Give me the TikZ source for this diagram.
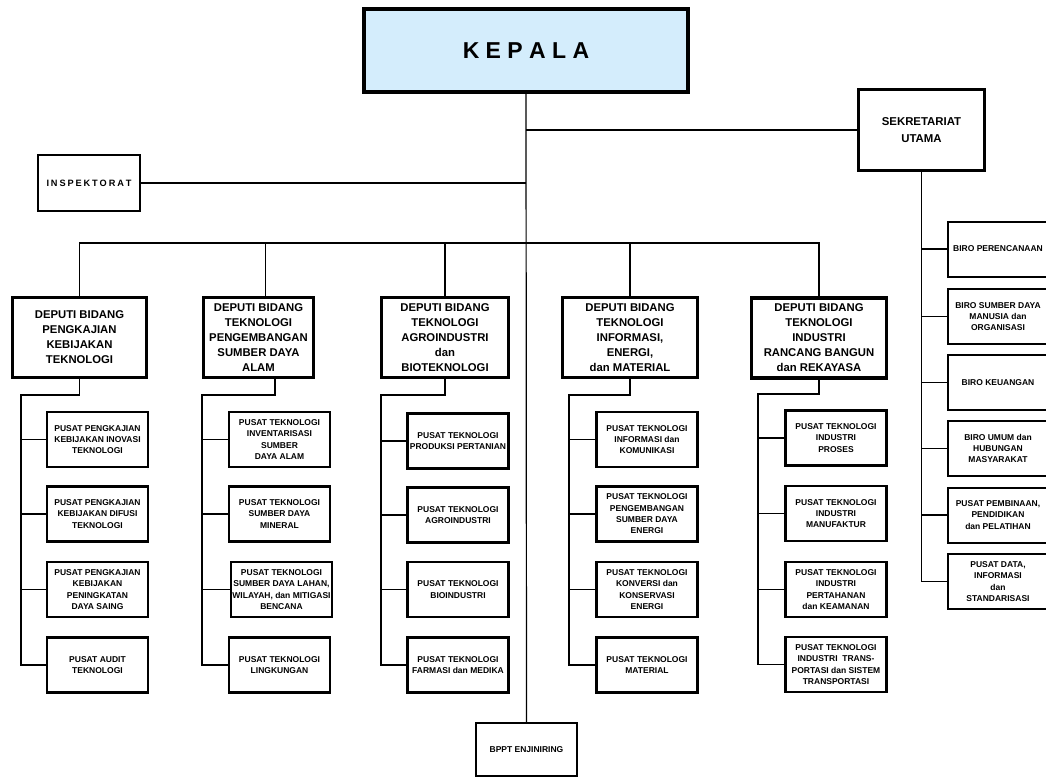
\documentclass[tikz,border=0pt]{standalone}
\usepackage{fontspec}
\setmainfont{Liberation Sans}
\usetikzlibrary{positioning}
\definecolor{kepalablue}{RGB}{212,237,252}

\begin{document}
\begin{tikzpicture}[
    x=1pt, y=-1pt,
    kepala/.style={draw, line width=3.5pt, fill=kepalablue, minimum width=324pt, minimum height=83pt, font=\bfseries\fontsize{23}{28}\selectfont},
    sekre/.style={draw, line width=3pt, minimum width=126pt, minimum height=81pt, align=center, font=\bfseries\fontsize{11.4}{17.6}\selectfont},
    insp/.style={draw, line width=2pt, minimum width=102pt, minimum height=56pt, font=\bfseries\fontsize{9.2}{10}\selectfont},
    deputi/.style={draw, line width=3.2pt, minimum height=80pt, align=center, inner sep=1pt, font=\bfseries\fontsize{11.3}{15}\selectfont},
    pusat/.style={draw, line width=2.2pt, minimum width=101pt, minimum height=55pt, align=center, inner sep=1pt, font=\bfseries\fontsize{8.5}{11.3}\selectfont},
    biro/.style={pusat, line width=2pt, minimum width=100pt},
    link/.style={line width=1.2pt}
  ]
    \useasboundingbox (0,0) rectangle (1046,778);

    \node[kepala] (kepala) at (526,50.5) {K E P A L A};
    \node[sekre] (sekre) at (921.5,130) {SEKRETARIAT\\UTAMA};
    \node[insp] (insp) at (89,183) {\spaceskip=1.9pt I N S P E K T O R A T};

    \node[deputi, minimum width=134pt] (dep1) at (79.5,337.5) {DEPUTI BIDANG\\PENGKAJIAN\\KEBIJAKAN\\TEKNOLOGI};
    \node[deputi, minimum width=110pt] (dep2) at (258.5,337.5) {DEPUTI BIDANG\\TEKNOLOGI\\PENGEMBANGAN\\SUMBER DAYA\\ALAM};
    \node[deputi, minimum width=127pt] (dep3) at (445,337.5) {DEPUTI BIDANG\\TEKNOLOGI\\AGROINDUSTRI\\dan\\BIOTEKNOLOGI};
    \node[deputi, minimum width=135pt] (dep4) at (630,337.5) {DEPUTI BIDANG\\TEKNOLOGI\\INFORMASI,\\ENERGI,\\dan MATERIAL};
    \node[deputi, minimum width=135pt] (dep5) at (819,338) {DEPUTI BIDANG\\TEKNOLOGI\\INDUSTRI\\RANCANG BANGUN\\dan REKAYASA};

    \node[pusat] (p11) at (97.5,439.5) {PUSAT PENGKAJIAN\\KEBIJAKAN INOVASI\\TEKNOLOGI};
    \node[pusat] (p12) at (97.5,514) {PUSAT PENGKAJIAN\\KEBIJAKAN DIFUSI\\TEKNOLOGI};
    \node[pusat] (p13) at (97.5,589.5) {PUSAT PENGKAJIAN\\KEBIJAKAN\\PENINGKATAN\\DAYA SAING};
    \node[pusat] (p14) at (97.5,665) {PUSAT AUDIT\\TEKNOLOGI};

    \node[pusat, line width=2.8pt] (p21) at (279.5,439.5) {PUSAT TEKNOLOGI\\INVENTARISASI\\SUMBER\\DAYA ALAM};
    \node[pusat, line width=2.8pt] (p22) at (279.5,514) {PUSAT TEKNOLOGI\\SUMBER DAYA\\MINERAL};
    \node[pusat, line width=2.8pt] (p23) at (281.5,589.5) {PUSAT TEKNOLOGI\\SUMBER DAYA LAHAN,\\WILAYAH, dan MITIGASI\\BENCANA};
    \node[pusat, line width=2.8pt] (p24) at (279.5,665) {PUSAT TEKNOLOGI\\LINGKUNGAN};

    \node[pusat] (p31) at (458,441) {PUSAT TEKNOLOGI\\PRODUKSI PERTANIAN};
    \node[pusat] (p32) at (458,515) {PUSAT TEKNOLOGI\\AGROINDUSTRI};
    \node[pusat] (p33) at (458,589.5) {PUSAT TEKNOLOGI\\BIOINDUSTRI};
    \node[pusat] (p34) at (458,665) {PUSAT TEKNOLOGI\\FARMASI dan MEDIKA};

    \node[pusat] (p41) at (647,439.5) {PUSAT TEKNOLOGI\\INFORMASI dan\\KOMUNIKASI};
    \node[pusat] (p42) at (647,514) {PUSAT TEKNOLOGI\\PENGEMBANGAN\\SUMBER DAYA\\ENERGI};
    \node[pusat] (p43) at (647,589.5) {PUSAT TEKNOLOGI\\KONVERSI dan\\KONSERVASI\\ENERGI};
    \node[pusat] (p44) at (647,665) {PUSAT TEKNOLOGI\\MATERIAL};

    \node[pusat, line width=2.8pt] (p51) at (836,438) {PUSAT TEKNOLOGI\\INDUSTRI\\PROSES};
    \node[pusat, line width=2.8pt] (p52) at (836,513.5) {PUSAT TEKNOLOGI\\INDUSTRI\\MANUFAKTUR};
    \node[pusat, line width=2.8pt] (p53) at (836,589.5) {PUSAT TEKNOLOGI\\INDUSTRI\\PERTAHANAN\\dan KEAMANAN};
    \node[pusat, line width=2.8pt] (p54) at (836,664.5) {PUSAT TEKNOLOGI\\INDUSTRI\ \ TRANS-\\PORTASI dan SISTEM\\TRANSPORTASI};

    \node[biro] (b1) at (998,249) {BIRO PERENCANAAN};
    \node[biro] (b2) at (998,316.5) {BIRO SUMBER DAYA\\MANUSIA dan\\ORGANISASI};
    \node[biro] (b3) at (998,382.5) {BIRO KEUANGAN};
    \node[biro] (b4) at (998,448.5) {BIRO UMUM dan\\HUBUNGAN\\MASYARAKAT};
    \node[biro] (b5) at (998,515) {PUSAT PEMBINAAN,\\PENDIDIKAN\\dan PELATIHAN};
    \node[biro] (b6) at (998,581.5) {PUSAT DATA,\\INFORMASI\\dan\\STANDARISASI};

    \node[pusat, minimum height=53pt] (bppt) at (526.5,749.5) {BPPT ENJINIRING};

    % bus and spines
    \coordinate (bus1) at (79.5,243);
    \coordinate (bus5) at (819,243);
    \coordinate (sp1) at (21,395);
    \coordinate (sp2) at (202,395);
    \coordinate (sp3) at (381,395);
    \coordinate (sp4) at (569,395);
    \coordinate (sp5) at (758,394);

    \draw[link] (kepala.south) -- (bppt.north);
    \draw[link] (insp.east) -- (insp.east -| kepala.south);
    \draw[link] (sekre.west) -- (sekre.west -| kepala.south);

    \draw[link] (dep1.north) -- (bus1) -- (bus5) -- (dep5.north);
    \draw[link] ([xshift=7pt]dep2.north) -- ([xshift=7pt]dep2.north |- bus1);
    \draw[link] (dep3.north) -- (dep3.north |- bus1);
    \draw[link] (dep4.north) -- (dep4.north |- bus1);

    \draw[link] (dep1.south) |- (sp1) |- (p14.west);
    \draw[link] (sp1 |- p11.west) -- (p11.west);
    \draw[link] (sp1 |- p12.west) -- (p12.west);
    \draw[link] (sp1 |- p13.west) -- (p13.west);

    \draw[link] ([xshift=16.5pt]dep2.south) |- (sp2) |- (p24.west);
    \draw[link] (sp2 |- p21.west) -- (p21.west);
    \draw[link] (sp2 |- p22.west) -- (p22.west);
    \draw[link] (sp2 |- p23.west) -- (p23.west);

    \draw[link] (dep3.south) |- (sp3) |- (p34.west);
    \draw[link] (sp3 |- p31.west) -- (p31.west);
    \draw[link] (sp3 |- p32.west) -- (p32.west);
    \draw[link] (sp3 |- p33.west) -- (p33.west);

    \draw[link] (dep4.south) |- (sp4) |- (p44.west);
    \draw[link] (sp4 |- p41.west) -- (p41.west);
    \draw[link] (sp4 |- p42.west) -- (p42.west);
    \draw[link] (sp4 |- p43.west) -- (p43.west);

    \draw[link] (dep5.south) |- (sp5) |- (p54.west);
    \draw[link] (sp5 |- p51.west) -- (p51.west);
    \draw[link] (sp5 |- p52.west) -- (p52.west);
    \draw[link] (sp5 |- p53.west) -- (p53.west);

    \draw[link] (sekre.south) |- (b6.west);
    \draw[link] (sekre.south |- b1.west) -- (b1.west);
    \draw[link] (sekre.south |- b2.west) -- (b2.west);
    \draw[link] (sekre.south |- b3.west) -- (b3.west);
    \draw[link] (sekre.south |- b4.west) -- (b4.west);
    \draw[link] (sekre.south |- b5.west) -- (b5.west);
\end{tikzpicture}
\end{document}
